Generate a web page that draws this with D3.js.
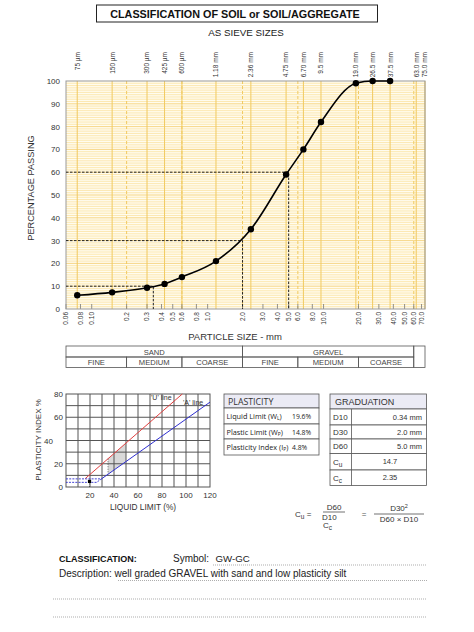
<!doctype html>
<html>
  <head>
    <script src="https://cdnjs.cloudflare.com/ajax/libs/d3/7.8.5/d3.min.js"></script>
    <style>
      body { margin: 0; background: #fff; }
      text { font-family: "Liberation Sans", Arial, sans-serif; fill: #222; }
      .grid-minor { stroke: #fadf98; stroke-width: 0.7; }
      .grid-major { stroke: #f4cd6c; stroke-width: 0.8; }
      .sieve-line { stroke: #f1ca60; stroke-width: 1; }
      .class-line { stroke: #f1ca60; stroke-width: 1; stroke-dasharray: 3 2; }
      .ref-line { stroke: #222; stroke-width: 1; stroke-dasharray: 2.5 1.5; fill: none; }
      .curve { fill: none; stroke: #000; stroke-width: 1.6; }
      .cell { fill: none; stroke: #555; stroke-width: 0.8; }
      .tbl { fill: #fff; stroke: #555; stroke-width: 0.8; }
      .hdr { fill: #ebebf5; stroke: #555; stroke-width: 0.8; }
      .pgrid { stroke: #555; stroke-width: 1; }
      .dots { stroke: #444; stroke-width: 0.8; stroke-dasharray: 1 1.5; fill: none; }
    </style>
  </head>
  <body>
    <svg id="chart" width="474" height="632"></svg>
    <script>
      // grading test
      var sieveSizes = [0.075, 0.15, 0.3, 0.425, 0.6, 1.18, 2.36, 4.75, 6.7, 9.5, 19, 26.5, 37.5, 63, 75];
      var sieveLabels = ["75 µm", "150 µm", "300 µm", "425 µm", "600 µm", "1.18 mm", "2.36 mm", "4.75 mm",
                         "6.70 mm", "9.5 mm", "19.0 mm", "26.5 mm", "37.5 mm", "63.0 mm", "75.0 mm"];
      var testSizes = [0.075, 0.15, 0.3, 0.425, 0.6, 1.18, 2.36, 4.75, 6.7, 9.5, 19, 26.5, 37.5];
      var passing = [6, 7.3, 9.3, 11, 14, 21, 35, 59, 70, 82, 99, 100, 100];
      var sizeTicks = [0.06, 0.08, 0.1, 0.2, 0.3, 0.4, 0.5, 0.6, 0.8, 1, 2, 3, 4, 5, 6, 8, 10, 20, 30, 40, 50, 60, 70];
      var sizeTickLabels = ["0.06", "0.08", "0.10", "0.2", "0.3", "0.4", "0.5", "0.6", "0.8", "1.0", "2.0", "3.0",
                            "4.0", "5.0", "6.0", "8.0", "10.0", "20.0", "30.0", "40.0", "50.0", "60.0", "70.0"];
      var percentTicks = [0, 10, 20, 30, 40, 50, 60, 70, 80, 90, 100];

      // D values
      var dPercents = [10, 30, 60];
      var dSizes = [0.34, 2.0, 5.0];

      // soil fractions
      var groupNames = ["SAND", "GRAVEL"];
      var groupBounds = [[0.06, 2], [2, 60]];
      var subNames = ["FINE", "MEDIUM", "COARSE", "FINE", "MEDIUM", "COARSE"];
      var subBounds = [0.06, 0.2, 0.6, 2, 6, 20, 60];

      // plasticity
      var liquidLimit = 19.6, plasticLimit = 14.8, plasticityIndex = 4.8;
      var plasticityRows = ["Liquid Limit (W", "Plastic Limit (W", "Plasticity Index (I"];
      var plasticitySubs = ["L", "P", "P"];
      var plasticityValues = ["19.6%", "14.8%", "4.8%"];
      var llTicks = [20, 40, 60, 80, 100, 120];
      var piTicks = [0, 20, 40, 60, 80];

      // graduation
      var gradLabels = ["D10", "D30", "D60", "C", "C"];
      var gradSubs = ["", "", "", "u", "c"];
      var gradValues = ["0.34 mm", "2.0 mm", "5.0 mm", "14.7", "2.35"];

      var svg = d3.select("#chart");

      // title
      svg.append("rect").attr("x", 96.5).attr("y", 5).attr("width", 281).attr("height", 17)
        .attr("fill", "none").attr("stroke", "#222").attr("stroke-width", 1);
      svg.append("text").attr("x", 235).attr("y", 17.5).attr("text-anchor", "middle")
        .style("font-size", "10.8px").style("font-weight", "bold").style("fill", "#111")
        .text("CLASSIFICATION OF SOIL or SOIL/AGGREGATE");
      svg.append("text").attr("x", 246).attr("y", 35.5).attr("text-anchor", "middle")
        .style("font-size", "9.8px").text("AS SIEVE SIZES");

      // grading chart
      var x = d3.scaleLog().domain([0.06, 75]).range([66, 425]);
      var y = d3.scaleLinear().domain([0, 100]).range([309, 81]);

      svg.append("rect").attr("x", 66).attr("y", 81).attr("width", 359).attr("height", 228).attr("fill", "#fffcef");

      var g = svg.append("g");
      g.selectAll("line.grid-minor").data(d3.range(1, 100)).enter().append("line")
        .attr("class", d => d % 10 === 0 ? "grid-major" : "grid-minor")
        .attr("x1", 66).attr("x2", 425).attr("y1", d => y(d)).attr("y2", d => y(d));
      g.selectAll("line.class-line").data(subBounds.slice(1)).enter().append("line")
        .attr("class", "class-line")
        .attr("x1", d => x(d)).attr("x2", d => x(d)).attr("y1", 81).attr("y2", 309);
      g.selectAll("line.sieve-line").data(sieveSizes).enter().append("line")
        .attr("class", "sieve-line")
        .attr("x1", d => x(d)).attr("x2", d => x(d)).attr("y1", 81).attr("y2", 309);

      // bottom tick marks
      g.selectAll("line.tick").data(sizeTicks).enter().append("line")
        .attr("stroke", "#777").attr("stroke-width", 0.8)
        .attr("x1", d => x(d)).attr("x2", d => x(d)).attr("y1", 309).attr("y2", 304);

      svg.append("rect").attr("x", 66).attr("y", 81).attr("width", 359).attr("height", 228)
        .attr("fill", "none").attr("stroke", "#999").attr("stroke-width", 1);

      // D-value reference lines
      dPercents.forEach(function (p, i) {
        svg.append("path").attr("class", "ref-line")
          .attr("d", "M66," + y(p) + "H" + x(dSizes[i]) + "V309");
      });

      // grading curve
      var line = d3.line().x((d, i) => x(testSizes[i])).y(d => y(d)).curve(d3.curveMonotoneX);
      svg.append("path").datum(passing).attr("class", "curve").attr("d", line);
      svg.selectAll("circle.pt").data(passing).enter().append("circle")
        .attr("cx", (d, i) => x(testSizes[i])).attr("cy", d => y(d)).attr("r", 3.2).attr("fill", "#000");

      // y axis labels
      svg.selectAll("text.ylab").data(percentTicks).enter().append("text")
        .attr("x", 60).attr("y", d => y(d) + 3).attr("text-anchor", "end")
        .style("font-size", "8px").style("fill", "#333").text(d => d);
      svg.append("text").attr("transform", "translate(34,188) rotate(-90)").attr("text-anchor", "middle")
        .style("font-size", "9.2px").style("fill", "#333").text("PERCENTAGE PASSING");

      // sieve labels (top)
      svg.selectAll("text.sieve").data(sieveSizes).enter().append("text")
        .attr("transform", (d, i) => "translate(" + (x(d) + 2.4) + ",52) rotate(-90)")
        .attr("text-anchor", "end").style("font-size", "6.5px").style("fill", "#333")
        .text((d, i) => sieveLabels[i]);

      // size labels (bottom)
      svg.selectAll("text.size").data(sizeTicks).enter().append("text")
        .attr("transform", d => "translate(" + (x(d) + 2.4) + ",312) rotate(-90)")
        .attr("text-anchor", "end").style("font-size", "6.5px").style("fill", "#333")
        .text((d, i) => sizeTickLabels[i]);
      svg.append("text").attr("x", 235).attr("y", 340).attr("text-anchor", "middle")
        .style("font-size", "9.5px").style("fill", "#333").text("PARTICLE SIZE - mm");

      // sand / gravel table
      var tTop = 346, tMid = 357, tBot = 367.5;
      groupBounds.forEach(function (b, i) {
        svg.append("rect").attr("class", "cell").attr("x", x(b[0])).attr("y", tTop)
          .attr("width", x(b[1]) - x(b[0])).attr("height", tMid - tTop);
        svg.append("text").attr("x", (x(b[0]) + x(b[1])) / 2).attr("y", tMid - 2.3).attr("text-anchor", "middle")
          .style("font-size", "7.6px").style("fill", "#444").text(groupNames[i]);
      });
      subNames.forEach(function (n, i) {
        var a = x(subBounds[i]), b = x(subBounds[i + 1]);
        svg.append("rect").attr("class", "cell").attr("x", a).attr("y", tMid).attr("width", b - a).attr("height", tBot - tMid);
        svg.append("text").attr("x", (a + b) / 2).attr("y", tBot - 2.3).attr("text-anchor", "middle")
          .style("font-size", "7.6px").style("fill", "#444").text(n);
      });
      svg.append("rect").attr("class", "cell").attr("x", x(60)).attr("y", tTop)
        .attr("width", x(75) - x(60)).attr("height", tBot - tTop);

      // plasticity chart
      var px = d3.scaleLinear().domain([0, 120]).range([66, 210]);
      var py = d3.scaleLinear().domain([0, 80]).range([487, 394]);
      var pg = svg.append("g");
      pg.append("rect").attr("x", 66).attr("y", 394).attr("width", 144).attr("height", 93).attr("fill", "#fff");

      // shaded zone LL 35-50 between A and U line
      var uLine = ll => 0.9 * (ll - 8);
      var aLine = ll => 0.73 * (ll - 20);
      var zone = [[35, uLine(35)], [50, uLine(50)], [50, aLine(50)], [35, aLine(35)]];
      pg.append("path").attr("fill", "#d9d9d9")
        .attr("d", "M" + zone.map(p => px(p[0]) + "," + py(p[1])).join("L") + "Z");

      pg.selectAll("line.vx").data(d3.range(10, 120, 10)).enter().append("line")
        .attr("class", "pgrid").attr("x1", d => px(d)).attr("x2", d => px(d)).attr("y1", 394).attr("y2", 487);
      pg.selectAll("line.hy").data(d3.range(10, 80, 10)).enter().append("line")
        .attr("class", "pgrid").attr("y1", d => py(d)).attr("y2", d => py(d)).attr("x1", 66).attr("x2", 210);
      pg.append("rect").attr("x", 66).attr("y", 394).attr("width", 144).attr("height", 93)
        .attr("fill", "none").attr("stroke", "#555").attr("stroke-width", 1);

      pg.append("line").attr("class", "dots")
        .attr("x1", px(35)).attr("x2", px(35)).attr("y1", py(uLine(35))).attr("y2", py(aLine(35)));

      // U line and A line
      pg.append("line").attr("stroke", "#e04040").attr("stroke-width", 1)
        .attr("x1", px(16)).attr("y1", py(uLine(16))).attr("x2", px(96.9)).attr("y2", py(80));
      pg.append("line").attr("stroke", "#3030d0").attr("stroke-width", 1)
        .attr("x1", px(29.6)).attr("y1", py(aLine(29.6))).attr("x2", px(120)).attr("y2", py(aLine(120)));
      pg.append("path").attr("fill", "none").attr("stroke", "#3030d0").attr("stroke-width", 0.9)
        .attr("stroke-dasharray", "2 1.2")
        .attr("d", "M" + px(0) + "," + py(7) + "H" + px(29.6) + "L" + px(25.5) + "," + py(4) + "H" + px(0));

      // test point
      pg.append("line").attr("class", "dots")
        .attr("x1", px(liquidLimit)).attr("x2", px(liquidLimit)).attr("y1", py(0)).attr("y2", py(plasticityIndex));
      pg.append("rect").attr("x", px(liquidLimit) - 1.6).attr("y", py(plasticityIndex) - 1.6)
        .attr("width", 3.2).attr("height", 3.2).attr("fill", "#000");

      pg.append("text").attr("x", 151).attr("y", 400).style("font-size", "7px").style("fill", "#333").text("'U' line");
      pg.append("text").attr("x", 183).attr("y", 405).style("font-size", "7px").style("fill", "#333").text("'A' line");

      pg.selectAll("text.llt").data(llTicks).enter().append("text")
        .attr("x", d => px(d)).attr("y", 498).attr("text-anchor", "middle")
        .style("font-size", "8px").style("fill", "#333").text(d => d);
      pg.selectAll("text.pit").data(piTicks).enter().append("text")
        .attr("x", d => d === 40 ? 53 : 63).attr("y", d => py(d) + 3).attr("text-anchor", "end")
        .style("font-size", "8px").style("fill", "#333").text(d => d);
      pg.append("text").attr("x", 143).attr("y", 510).attr("text-anchor", "middle")
        .style("font-size", "8.3px").style("fill", "#333").text("LIQUID LIMIT (%)");
      pg.append("text").attr("transform", "translate(41,440) rotate(-90)").attr("text-anchor", "middle")
        .style("font-size", "8px").style("fill", "#333").text("PLASTICITY INDEX %");

      // plasticity table
      var ptX = 224, ptW = 95;
      var ptRows = [408, 424, 439, 455];
      svg.append("rect").attr("class", "hdr").attr("x", ptX).attr("y", 394).attr("width", ptW).attr("height", 14);
      svg.append("text").attr("x", 228).attr("y", 404.5).style("font-family", "'Open Sans', sans-serif")
        .style("font-size", "8.8px").style("fill", "#333").text("PLASTICITY");
      plasticityRows.forEach(function (r, i) {
        svg.append("rect").attr("class", "tbl").attr("x", ptX).attr("y", ptRows[i])
          .attr("width", ptW).attr("height", ptRows[i + 1] - ptRows[i]);
        var t = svg.append("text").attr("x", 226.5).attr("y", ptRows[i] + 10.5)
          .style("font-family", "'Open Sans', sans-serif").style("font-size", "7.3px").style("fill", "#222");
        t.append("tspan").text(r);
        t.append("tspan").attr("dy", 1.5).style("font-size", "5px").text(plasticitySubs[i]);
        t.append("tspan").attr("dy", -1.5).text(")");
        svg.append("text").attr("x", 292).attr("y", ptRows[i] + 10.5)
          .style("font-family", "'Open Sans', sans-serif").style("font-size", "6.8px").style("fill", "#222")
          .text(plasticityValues[i]);
      });

      // graduation table
      var gtX = 330, gtW = 96.5, gtDiv = 351.5;
      var gtRows = [409, 425, 439, 453.5, 470, 485.5];
      svg.append("rect").attr("class", "hdr").attr("x", gtX).attr("y", 394).attr("width", gtW).attr("height", 15);
      svg.append("text").attr("x", 335).attr("y", 405).style("font-size", "9px").style("fill", "#333").text("GRADUATION");
      gradLabels.forEach(function (l, i) {
        var h = gtRows[i + 1] - gtRows[i];
        svg.append("rect").attr("class", "tbl").attr("x", gtX).attr("y", gtRows[i]).attr("width", gtW).attr("height", h);
        svg.append("line").attr("stroke", "#555").attr("stroke-width", 0.8)
          .attr("x1", gtDiv).attr("x2", gtDiv).attr("y1", gtRows[i]).attr("y2", gtRows[i + 1]);
        var t = svg.append("text").attr("x", 333).attr("y", gtRows[i] + h / 2 + 3)
          .style("font-size", "8px").style("fill", "#333");
        t.append("tspan").text(l);
        if (gradSubs[i]) t.append("tspan").attr("dy", 2.5).style("font-size", "6.5px").text(gradSubs[i]);
        var c = i < 3;
        svg.append("text").attr("x", c ? 422 : 390).attr("y", gtRows[i] + h / 2 + 2.5)
          .attr("text-anchor", c ? "end" : "middle")
          .style("font-size", "7.5px").style("fill", "#333").text(gradValues[i]);
      });

      // formulas
      var f = svg.append("text").attr("x", 295).attr("y", 517).style("font-size", "8px").style("fill", "#333");
      f.append("tspan").text("C");
      f.append("tspan").attr("dy", 2).style("font-size", "6.5px").text("u");
      f.append("tspan").attr("dy", -2).text(" =");
      svg.append("text").attr("x", 334).attr("y", 510).attr("text-anchor", "middle").style("font-size", "8px").style("fill", "#333").text("D60");
      svg.append("line").attr("x1", 323).attr("x2", 345).attr("y1", 512).attr("y2", 512).attr("stroke", "#333").attr("stroke-width", 0.7);
      svg.append("text").attr("x", 322).attr("y", 519.5).style("font-size", "8px").style("fill", "#333").text("D10");
      var cc = svg.append("text").attr("x", 323).attr("y", 528).style("font-size", "8px").style("fill", "#333");
      cc.append("tspan").text("C");
      cc.append("tspan").attr("dy", 2).style("font-size", "6.5px").text("c");
      svg.append("text").attr("x", 364).attr("y", 517).attr("text-anchor", "middle").style("font-size", "8px").style("fill", "#555").text("=");
      var d30 = svg.append("text").attr("x", 399).attr("y", 511).attr("text-anchor", "middle").style("font-size", "8px").style("fill", "#333");
      d30.append("tspan").text("D30");
      d30.append("tspan").attr("dy", -3).style("font-size", "5.5px").text("2");
      svg.append("line").attr("x1", 374).attr("x2", 424).attr("y1", 514).attr("y2", 514).attr("stroke", "#333").attr("stroke-width", 0.7);
      svg.append("text").attr("x", 399).attr("y", 522).attr("text-anchor", "middle").style("font-size", "8px").style("fill", "#333").text("D60 × D10");

      // classification
      svg.append("text").attr("x", 59).attr("y", 562).style("font-size", "9px").style("font-weight", "bold")
        .style("fill", "#111").text("CLASSIFICATION:");
      svg.append("text").attr("x", 173).attr("y", 562).style("font-size", "10px").style("fill", "#222").text("Symbol:");
      svg.append("text").attr("x", 215.5).attr("y", 562).style("font-size", "9.7px").style("fill", "#222").text("GW-GC");
      svg.append("text").attr("x", 59).attr("y", 577).style("font-size", "10px").style("fill", "#222")
        .text("Description: well graded GRAVEL with sand and low plasticity silt");
      var dotted = [[213, 565], [118, 580.5], [53, 599], [53, 617]];
      dotted.forEach(function (d) {
        svg.append("line").attr("x1", d[0]).attr("x2", 427).attr("y1", d[1]).attr("y2", d[1])
          .attr("stroke", "#777").attr("stroke-width", 0.6).attr("stroke-dasharray", "1 1");
      });
    </script>
  </body>
</html>
